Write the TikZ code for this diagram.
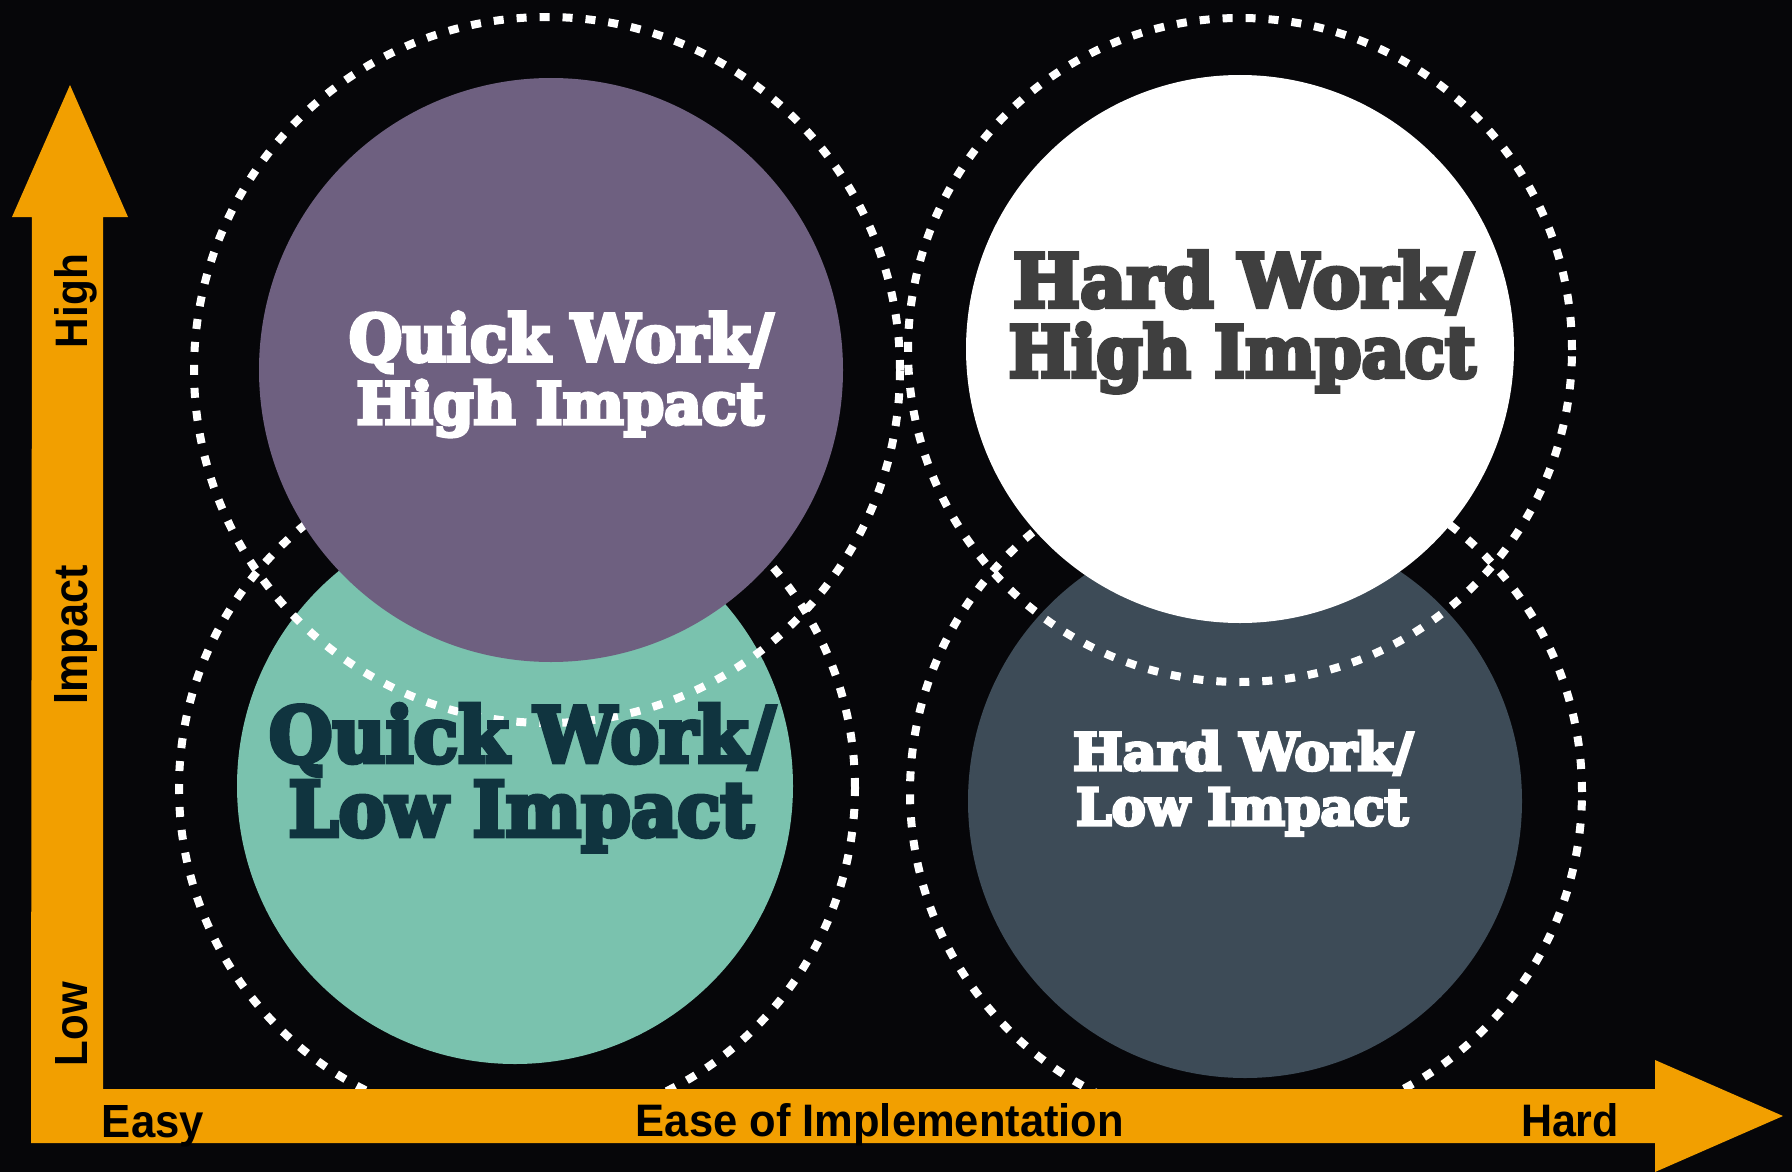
\documentclass[tikz,border=0pt]{standalone}
\usepackage{fontspec}
\usepackage{graphicx}
\newfontfamily\slabfont{DejaVu Serif}[UprightFont=* Bold, UprightFeatures={FakeBold=6}, BoldFont=* Bold, BoldFeatures={FakeBold=6}]
\newfontfamily\axisfont{Liberation Sans}
\definecolor{bgc}{HTML}{060609}
\definecolor{axorange}{HTML}{F29F00}
\definecolor{qpurple}{HTML}{6E6080}
\definecolor{qteal}{HTML}{7AC2AE}
\definecolor{qslate}{HTML}{3D4B57}
\definecolor{txtgray}{HTML}{3F3F3F}
\definecolor{txtteal}{HTML}{10343F}
\newcommand{\fitt}[3]{\resizebox{#1pt}{#2pt}{#3}}
\begin{document}
\begin{tikzpicture}[x=1pt,y=-1pt,
  fillc/.style={circle, inner sep=0pt, outer sep=0pt, draw=none},
  ring/.style={circle, inner sep=0pt, outer sep=0pt, draw=white, line width=8pt, dash pattern=on 10pt off 13pt},
  slabtxt/.style={inner sep=0pt, outer sep=0pt, anchor=base, font=\slabfont},
  axtxt/.style={inner sep=0pt, outer sep=0pt, anchor=base, font=\axisfont\bfseries, text=black},
]
\useasboundingbox (0,0) rectangle (1792,1172);
\fill[bgc] (0,0) rectangle (1792,1172);

% lower rings and fills
\node[ring, minimum size=676pt] (qwloring) at (517,788) {};
\node[ring, minimum size=672pt] (hwloring) at (1246,792) {};
\node[fillc, fill=qteal, minimum size=556pt] (qwlo) at (515,786) {};
\node[fillc, fill=qslate, minimum size=554pt] (hwlo) at (1245,801) {};

% upper fills and rings
\node[fillc, fill=qpurple, minimum size=584pt] (qwhi) at (551,370) {};
\node[fillc, fill=white, minimum size=548pt] (hwhi) at (1240,349) {};
\node[ring, minimum size=706pt] (qwhiring) at (547,370) {};
\node[ring, minimum size=664pt] (hwhiring) at (1240,350) {};

% circle texts
\node[slabtxt, text=white] (qwhiA) at (561,361) {\fitt{424}{49}{Quick Work/}};
\node[slabtxt, text=white] (qwhiB) at (560,424) {\fitt{407}{44}{High Impact}};
\node[slabtxt, text=txtgray] (hwhiA) at (1243,307) {\fitt{460}{56}{Hard Work/}};
\node[slabtxt, text=txtgray] (hwhiB) at (1242,377) {\fitt{467}{54}{High Impact}};
\node[slabtxt, text=txtteal] (qwloA) at (522,762) {\fitt{506}{58}{Quick Work/}};
\node[slabtxt, text=txtteal] (qwloB) at (521,836) {\fitt{465}{55}{Low Impact}};
\node[slabtxt, text=white] (hwloA) at (1243,770) {\fitt{340}{39}{Hard Work/}};
\node[slabtxt, text=white] (hwloB) at (1242,825) {\fitt{332}{37}{Low Impact}};

% axes
\fill[axorange] (32,217) -- (12,217) -- (70,85) -- (128,217) -- (103,217)
  -- (103,1089) -- (1655,1089) -- (1655,1060) -- (1783,1116) -- (1655,1172)
  -- (1655,1143) -- (31,1143) -- cycle;

\node[axtxt] (easy) at (153,1137) {\fitt{102}{32}{Easy}};
\node[axtxt] (ease) at (880,1136) {\fitt{488}{33}{Ease of Implementation}};
\node[axtxt] (hard) at (1570,1136) {\fitt{98}{33}{Hard}};

\node[axtxt, rotate=90] (high) at (87,301) {\fitt{94}{33}{High}};
\node[axtxt, rotate=90] (impact) at (87,635) {\fitt{139}{33}{Impact}};
\node[axtxt, rotate=90] (low) at (87,1024) {\fitt{84}{32}{Low}};
\end{tikzpicture}
\end{document}
